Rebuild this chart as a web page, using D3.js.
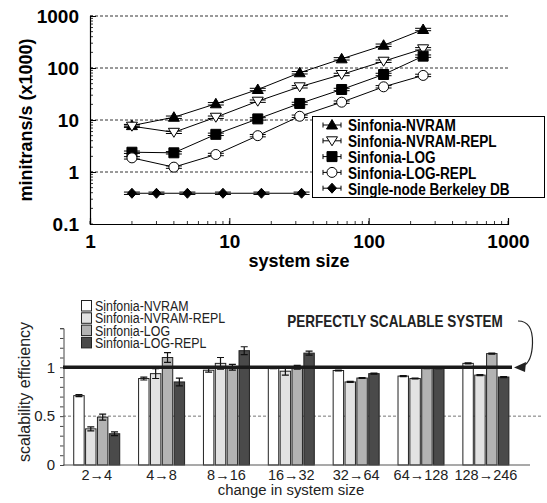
<!DOCTYPE html>
<html><head><meta charset="utf-8">
<script src="https://cdn.jsdelivr.net/npm/d3@7"></script>
<style>
html,body{margin:0;padding:0;background:#fff;}
svg{display:block;}
</style></head>
<body>
<svg id="c" width="547" height="503"></svg>
<script>
// ---------- DATA (top chart) ----------
const sizes = [2, 4, 8, 16, 32, 64, 128, 246];
const nvram = [7.8, 11.3, 20.5, 38.6, 81, 150, 274, 550];
const nvramRepl = [7.6, 5.8, 11.3, 23, 43.5, 75, 135, 234];
const logS = [2.4, 2.34, 5.3, 10.5, 20.8, 38.6, 75, 169];
const logRepl = [1.87, 1.24, 2.17, 5.0, 11.8, 22, 43.5, 72];
const bdbSizes = [2, 3, 5, 9, 17, 33];
const bdb = [0.39, 0.39, 0.39, 0.39, 0.39, 0.39];
const topSeriesNames = ["Sinfonia-NVRAM", "Sinfonia-NVRAM-REPL", "Sinfonia-LOG", "Sinfonia-LOG-REPL", "Single-node Berkeley DB"];
const yTopTicks = [0.1, 1, 10, 100, 1000];
const xTopTicks = [1, 10, 100, 1000];

// ---------- DATA (bottom chart) ----------
const groups = ["2→4", "4→8", "8→16", "16→32", "32→64", "64→128", "128→246"];
const barSeriesNames = ["Sinfonia-NVRAM", "Sinfonia-NVRAM-REPL", "Sinfonia-LOG", "Sinfonia-LOG-REPL"];
const effNvram = [0.71, 0.885, 0.97, 0.99, 0.967, 0.91, 1.04];
const effNvramRepl = [0.37, 0.935, 1.04, 0.96, 0.85, 0.885, 0.92];
const effLog = [0.49, 1.10, 1.00, 1.00, 0.89, 0.99, 1.14];
const effLogRepl = [0.32, 0.85, 1.17, 1.145, 0.935, 0.99, 0.90];
const errNvram = [0.01, 0.015, 0.02, 0.005, 0.005, 0.005, 0.005];
const errNvramRepl = [0.02, 0.05, 0.06, 0.04, 0.005, 0.005, 0.005];
const errLog = [0.03, 0.05, 0.03, 0.02, 0.005, 0.005, 0.005];
const errLogRepl = [0.02, 0.04, 0.04, 0.02, 0.005, 0.005, 0.005];
const yBotTicks = [0, 0.5, 1];

const svg = d3.select("#c");
const SANS = "'Liberation Sans', Arial, sans-serif";

// ================= TOP CHART =================
const xT = d3.scaleLog().domain([1, 1000]).range([90, 508]);
const yT = d3.scaleLog().domain([0.1, 1000]).range([224, 16]);
const gTop = svg.append("g");

gTop.selectAll("line.grid").data(yTopTicks.slice(1)).join("line")
  .attr("x1", 90).attr("x2", 508)
  .attr("y1", d => yT(d)).attr("y2", d => yT(d))
  .attr("stroke", "#000").attr("stroke-width", 0.8).attr("stroke-dasharray", "3,2");

gTop.selectAll("line.ymin").data(yT.ticks()).join("line")
  .attr("x1", 90).attr("x2", 93).attr("y1", d => yT(d)).attr("y2", d => yT(d))
  .attr("stroke", "#000").attr("stroke-width", 0.8);
gTop.selectAll("line.xmin").data(xT.ticks()).join("line")
  .attr("y1", 224).attr("y2", 221).attr("x1", d => xT(d)).attr("x2", d => xT(d))
  .attr("stroke", "#000").attr("stroke-width", 0.8);

const yAxT = d3.axisLeft(yT).tickValues(yTopTicks).tickSize(-6).tickPadding(11)
  .tickFormat(d => String(d));
const gy = gTop.append("g").attr("transform", "translate(90,0)").call(yAxT);
gy.select(".domain").attr("stroke", "#000").attr("stroke-width", 1.2);
gy.selectAll("text").attr("font-family", SANS).attr("font-weight", "bold").attr("font-size", 19).attr("fill", "#000");

const xAxT = d3.axisBottom(xT).tickValues(xTopTicks).tickSize(-6).tickPadding(11)
  .tickFormat(d => String(d));
const gx = gTop.append("g").attr("transform", "translate(0,224)").call(xAxT);
gx.select(".domain").attr("stroke", "#000").attr("stroke-width", 1.2);
gx.selectAll("text").attr("font-family", SANS).attr("font-weight", "bold").attr("font-size", 19).attr("fill", "#000");

gTop.append("text").attr("x", 299).attr("y", 267).attr("text-anchor", "middle")
  .attr("font-family", SANS).attr("font-weight", "bold").attr("font-size", 18).text("system size");
gTop.append("text").attr("transform", "translate(32,120) rotate(-90)").attr("text-anchor", "middle")
  .attr("font-family", SANS).attr("font-weight", "bold").attr("font-size", 18).text("minitrans/s (x1000)");

function markerPath(type) {
  switch (type) {
    case "tri": return "M0,-5.5L5.5,4L-5.5,4Z";
    case "itri": return "M0,5L5.5,-4L-5.5,-4Z";
    case "sq": return "M-5,-5H5V5H-5Z";
    case "circ": return "M5,0A5,5 0 1,1 -5,0A5,5 0 1,1 5,0Z";
    case "dia": return "M0,-5L4.5,0L0,5L-4.5,0Z";
  }
}
const topSeries = [
  {name: topSeriesNames[0], xs: sizes, ys: nvram, m: "tri", fill: "#000"},
  {name: topSeriesNames[1], xs: sizes, ys: nvramRepl, m: "itri", fill: "#fff"},
  {name: topSeriesNames[2], xs: sizes, ys: logS, m: "sq", fill: "#000"},
  {name: topSeriesNames[3], xs: sizes, ys: logRepl, m: "circ", fill: "#fff"},
  {name: topSeriesNames[4], xs: bdbSizes, ys: bdb, m: "dia", fill: "#000"}
];
const line = d3.line().x(d => xT(d[0])).y(d => yT(d[1]));
topSeries.forEach(s => {
  const pts = s.xs.map((x, i) => [x, s.ys[i]]);
  const g = gTop.append("g");
  g.append("path").attr("d", line(pts)).attr("fill", "none").attr("stroke", "#000").attr("stroke-width", 1);
  g.selectAll("path.cap").data(pts).join("path")
    .attr("d", d => {
      const x = xT(d[0]), y = yT(d[1]);
      return `M${x-8},${y-1.2}H${x+8}M${x-8},${y+1.2}H${x+8}`;
    })
    .attr("stroke", "#000").attr("stroke-width", 1);
  g.selectAll("path.mk").data(pts).join("path")
    .attr("transform", d => `translate(${xT(d[0])},${yT(d[1])})`)
    .attr("d", markerPath(s.m)).attr("fill", s.fill).attr("stroke", "#000").attr("stroke-width", 1);
});

// legend (condensed look via horizontal scale)
const lg = gTop.append("g");
lg.append("rect").attr("x", 312.5).attr("y", 116.5).attr("width", 232).attr("height", 81)
  .attr("fill", "#fff").attr("stroke", "#000").attr("stroke-width", 1);
topSeries.forEach((s, i) => {
  const cy = 125 + i * 15.8;
  lg.append("path").attr("d", `M323,${cy}H341M323,${cy-2.5}V${cy+2.5}M341,${cy-2.5}V${cy+2.5}`)
    .attr("stroke", "#000").attr("stroke-width", 1);
  lg.append("path").attr("transform", `translate(332,${cy})`).attr("d", markerPath(s.m))
    .attr("fill", s.fill).attr("stroke", "#000").attr("stroke-width", 1);
  lg.append("text").attr("transform", `translate(348,${cy + 6.3}) scale(0.8,1)`)
    .attr("font-family", SANS).attr("font-weight", "bold").attr("font-size", 17).text(s.name);
});

// ================= BOTTOM CHART =================
const yB = d3.scaleLinear().domain([0, 1.4]).range([465, 328.2]);
const x0 = d3.scaleBand().domain(groups).range([64.3, 518.3]);
const x1 = d3.scaleBand().domain(barSeriesNames).range([-23, 23]).paddingInner(0.12);
const bot = svg.append("g");
const barColors = ["#ffffff", "#e2e2e2", "#b3b3b3", "#4a4a4a"];
const effs = [effNvram, effNvramRepl, effLog, effLogRepl];
const errs = [errNvram, errNvramRepl, errLog, errLogRepl];

bot.append("line").attr("x1", 63).attr("x2", 541).attr("y1", yB(0.5)).attr("y2", yB(0.5))
  .attr("stroke", "#777").attr("stroke-width", 1).attr("stroke-dasharray", "3,2");

const yAxB = d3.axisLeft(yB).tickValues(d3.range(0, 15).map(i => i / 10)).tickSize(3.5).tickPadding(5)
  .tickFormat(d => yBotTicks.some(t => Math.abs(t - d) < 1e-9) ? String(d) : "");
const gyb = bot.append("g").attr("transform", "translate(63.5,0)").call(yAxB);
gyb.select(".domain").attr("stroke", "#444").attr("stroke-width", 1);
gyb.selectAll(".tick line").attr("stroke", "#444");
gyb.selectAll("text").attr("font-family", SANS).attr("font-size", 15).attr("fill", "#222");

groups.forEach((gname, gi) => {
  barSeriesNames.forEach((sn, si) => {
    const v = effs[si][gi], e = errs[si][gi];
    const cx = x0(gname) + x0.bandwidth() / 2 + x1(sn);
    bot.append("rect").attr("x", cx).attr("y", yB(v)).attr("width", x1.bandwidth())
      .attr("height", yB(0) - yB(v)).attr("fill", barColors[si]).attr("stroke", "#222").attr("stroke-width", 1);
    const mx = cx + x1.bandwidth() / 2;
    bot.append("path").attr("d", `M${mx},${yB(v+e)}V${yB(v-e)}M${mx-3.5},${yB(v+e)}H${mx+3.5}M${mx-3.5},${yB(v-e)}H${mx+3.5}`)
      .attr("stroke", "#111").attr("stroke-width", 1.2).attr("fill", "none");
  });
});

bot.append("line").attr("x1", 63).attr("x2", 530).attr("y1", yB(0)).attr("y2", yB(0))
  .attr("stroke", "#555").attr("stroke-width", 1.2);
const xAxB = d3.axisBottom(x0).tickSize(0).tickPadding(5);
const gxb = bot.append("g").attr("transform", `translate(0,${yB(0)})`).call(xAxB);
gxb.select(".domain").remove();
gxb.selectAll("text").attr("font-family", SANS).attr("font-size", 14.5).attr("fill", "#222");

bot.append("line").attr("x1", 63).attr("x2", 512).attr("y1", yB(1)).attr("y2", yB(1))
  .attr("stroke", "#1a1a1a").attr("stroke-width", 3.5);

bot.append("text").attr("transform", "translate(395,326.5) scale(0.82,1)").attr("text-anchor", "middle")
  .attr("font-family", SANS).attr("font-weight", "bold").attr("font-size", 16.5).attr("fill", "#222")
  .text("PERFECTLY SCALABLE SYSTEM");
bot.append("path").attr("d", "M518,321 Q533,321 532.5,343 Q532,362 523,366")
  .attr("fill", "none").attr("stroke", "#222").attr("stroke-width", 1.2);
bot.append("path").attr("d", "M514,367.5L526,362L525,372Z").attr("fill", "#222");

bot.append("text").attr("transform", "translate(291,495) scale(0.96,1)").attr("text-anchor", "middle")
  .attr("font-family", SANS).attr("font-size", 15.5).attr("fill", "#222").text("change in system size");
bot.append("text").attr("transform", "translate(29.5,392) rotate(-90)").attr("text-anchor", "middle")
  .attr("font-family", SANS).attr("font-size", 16).attr("fill", "#222").text("scalability efficiency");

barSeriesNames.forEach((sn, i) => {
  const y = 300.5 + i * 12.3;
  bot.append("rect").attr("x", 81.5).attr("y", y).attr("width", 10).attr("height", 10.5)
    .attr("fill", barColors[i]).attr("stroke", "#222").attr("stroke-width", 1);
  bot.append("text").attr("transform", `translate(95,${y + 10.5}) scale(0.8,1)`)
    .attr("font-family", SANS).attr("font-size", 15.5).attr("fill", "#222").text(sn);
});
</script>
</body></html>
